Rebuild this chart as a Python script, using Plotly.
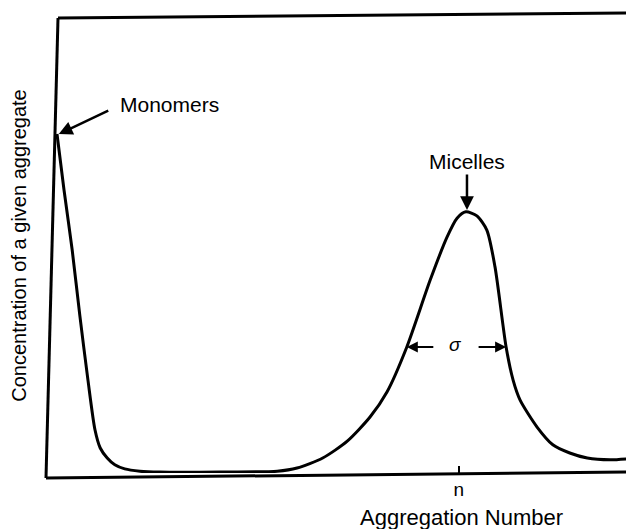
import plotly.graph_objects as go

# Distribution of aggregate sizes (arbitrary units)
agg_number = [1.2, 2.4, 3.8, 5.1, 6.5, 7.7, 8.6, 9.8, 11.1, 12.8, 15.4, 18.8,
              29.1, 38.9, 42.3, 46.7, 50.9, 54.8, 57.7, 61.1, 65.1, 68.0, 69.7,
              71.2, 73.1, 74.8, 76.2, 78.1, 79.3, 80.5, 83.4, 86.1, 89.0, 92.0,
              95.9, 98.8]
concentration = [74.5, 62.2, 49.0, 34.7, 20.4, 9.5, 5.5, 3.3, 1.8, 0.9, 0.4, 0.2,
                 0.2, 0.4, 1.1, 3.3, 7.0, 12.3, 17.8, 27.7, 42.4, 51.9, 56.0,
                 57.4, 56.5, 53.4, 45.3, 27.7, 20.4, 16.0, 10.1, 6.2, 4.4, 3.3,
                 2.9, 3.1]

tick_vals = [70.0]
tick_text = ["n"]

FONT = "Liberation Sans, Arial, sans-serif"

# the page body has an 8px margin, so the figure is 8px smaller each way
OFF = 8
W, H = 634 - OFF, 529 - OFF
# plot area in page pixels: left 50, right 634, top 18, bottom 473
L, R, T, B = 50, 634, 18, 473


def px(x, y):
    """Convert page pixels to paper coordinates."""
    return (x - L) / (R - L), (B - y) / (B - T)


fig = go.Figure()

fig.add_trace(go.Scatter(
    x=agg_number,
    y=concentration,
    mode="lines",
    line=dict(color="black", width=3, shape="spline", smoothing=0.7),
    showlegend=False,
    hoverinfo="skip",
))

# slightly skewed frame, as in the scanned drawing
frame = [((58, 18), (46, 478)), ((46, 478), (634, 472)), ((58, 18), (634, 13))]
for (x0, y0), (x1, y1) in frame:
    a0, b0 = px(x0, y0)
    a1, b1 = px(x1, y1)
    fig.add_shape(type="line", xref="paper", yref="paper",
                  x0=a0, y0=b0, x1=a1, y1=b1,
                  line=dict(color="black", width=3))

# labels
fig.add_annotation(x=20.4, y=81.1, text="Monomers", showarrow=False,
                   font=dict(size=21, color="black", family=FONT))
fig.add_annotation(x=71.4, y=68.4, text="Micelles", showarrow=False,
                   font=dict(size=21, color="black", family=FONT))
fig.add_annotation(x=69.5, y=28.3, text="<i>σ</i>", showarrow=False,
                   font=dict(size=19, color="black", family=FONT))
fig.add_annotation(x=70.5, xref="x", y=px(0, 517)[1], yref="paper",
                   yanchor="middle", text="Aggregation Number", showarrow=False,
                   font=dict(size=22, color="black", family=FONT))

# arrows
arrows = [
    (1.5, 74.5, 51, -24, 2.5),   # monomers
    (71.4, 57.8, 0, -37, 2.5),   # micelles
    (61.1, 27.7, 28, 0, 2),      # sigma left
    (78.1, 27.7, -29, 0, 2),     # sigma right
]
for x, y, ax, ay, w in arrows:
    fig.add_annotation(x=x, y=y, ax=ax, ay=ay, text="", showarrow=True,
                       arrowhead=2, arrowsize=1.1, arrowwidth=w,
                       arrowcolor="black", standoff=0)

fig.update_layout(
    width=W,
    height=H,
    margin=dict(l=L - OFF, r=W - (R - OFF), t=T - OFF, b=H - (B - OFF)),
    paper_bgcolor="white",
    plot_bgcolor="white",
    font=dict(family=FONT, color="black", size=20),
    xaxis=dict(
        range=[0, 100],
        showgrid=False,
        zeroline=False,
        showline=False,
        tickmode="array",
        tickvals=tick_vals,
        ticktext=tick_text,
        ticks="inside",
        ticklen=7,
        tickwidth=2,
        tickcolor="black",
        tickfont=dict(size=19),
        ticklabelstandoff=3,
    ),
    yaxis=dict(
        range=[0, 100],
        showgrid=False,
        zeroline=False,
        showline=False,
        showticklabels=False,
        ticks="",
        title=dict(text="Concentration of a given aggregate", font=dict(size=20), standoff=18),
    ),
)

fig.write_html("out.html")
